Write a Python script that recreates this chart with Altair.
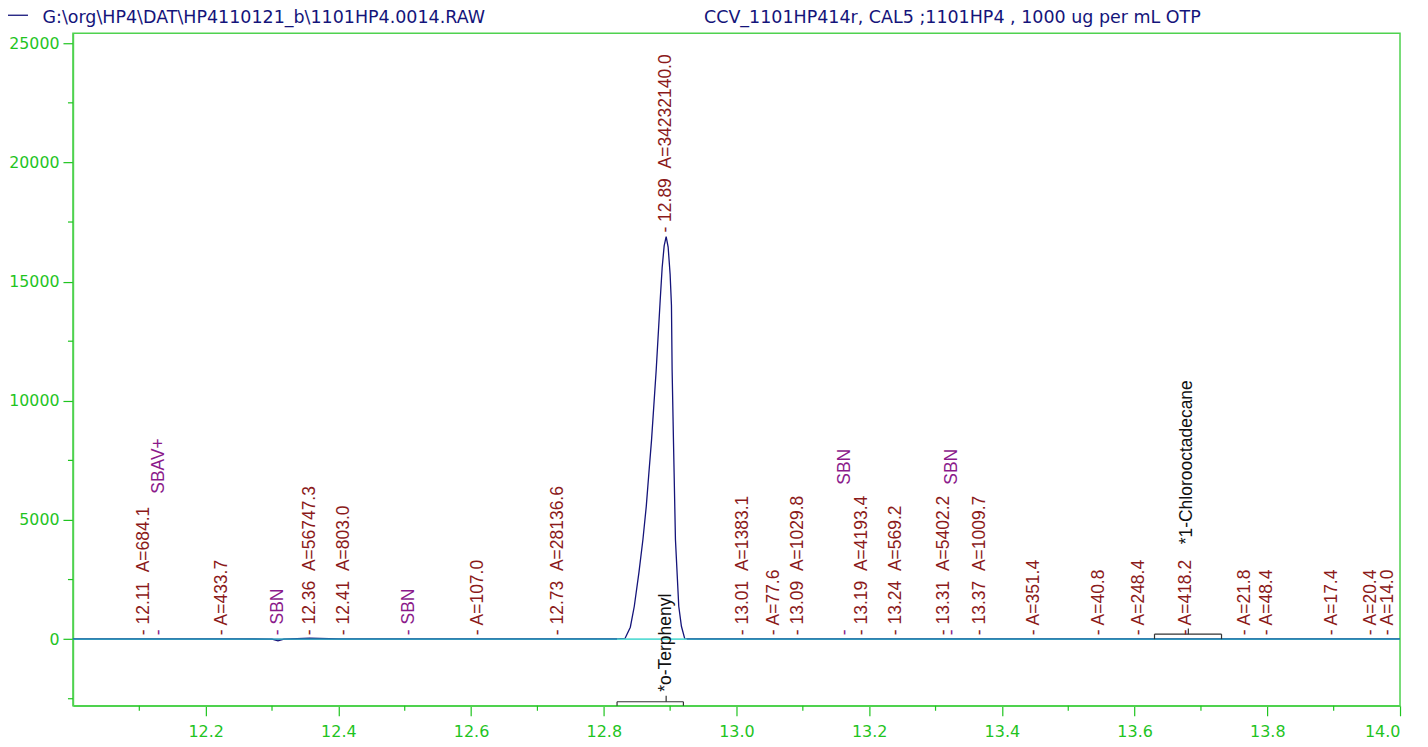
import altair as alt
import pandas as pd

# ---------------- data ----------------
header_left = "G:\\org\\HP4\\DAT\\HP4110121_b\\1101HP4.0014.RAW"
header_right = "CCV_1101HP414r, CAL5 ;1101HP4 , 1000 ug per mL OTP"

# chromatogram trace: retention time (min) and counts
trace_rt = [12.000, 12.050, 12.100, 12.150, 12.200, 12.250, 12.300, 12.309, 12.318,
            12.357, 12.400, 12.450, 12.500, 12.550, 12.600, 12.650, 12.700, 12.750,
            12.800, 12.820, 12.832, 12.840, 12.846, 12.853, 12.859, 12.864, 12.868,
            12.872, 12.879, 12.885, 12.888, 12.891, 12.894, 12.897, 12.900, 12.902,
            12.903, 12.905, 12.906, 12.908, 12.913, 12.917, 12.922, 12.940, 13.000,
            13.050, 13.100, 13.150, 13.200, 13.250, 13.300, 13.350, 13.400, 13.450,
            13.500, 13.550, 13.600, 13.650, 13.700, 13.750, 13.800, 13.850, 13.900,
            13.950, 14.000]
trace_val = [10, 12, 8, 10, 12, 8, 5, -70, 5,
             40, 12, 8, 10, 8, 10, 8, 10, 8,
             10, 10, 30, 500, 1380, 2800, 4180, 5560, 6980,
             8360, 11290, 14210, 15590, 16500, 16890, 16450, 15300, 14000,
             11290, 8360, 6980, 4180, 1380, 540, 20, 10, 10,
             8, 10, 8, 10, 8, 10, 8, 10, 8,
             10, 8, 10, 8, 10, 8, 10, 8, 10,
             8, 10]

# integration baselines
base_start = [12.000, 12.820, 12.925]
base_end = [12.820, 12.925, 14.000]
base_color = ["#2796b8", "#4ad8d0", "#2796b8"]

# peak annotations (dark red)
peak_rt = [12.107, 12.224, 12.357, 12.409, 12.610, 12.731, 12.894, 13.010, 13.056,
           13.092, 13.189, 13.240, 13.312, 13.367, 13.448, 13.546, 13.607, 13.677,
           13.767, 13.799, 13.897, 13.957, 13.982]
peak_text = ["- 12.11\u00a0\u00a0A=684.1", "- A=433.7", "- 12.36\u00a0\u00a0A=56747.3",
             "- 12.41\u00a0\u00a0A=803.0", "- A=107.0", "- 12.73\u00a0\u00a0A=28136.6",
             "- 12.89\u00a0\u00a0A=34232140.0", "- 13.01\u00a0\u00a0A=1383.1", "- A=77.6",
             "- 13.09\u00a0\u00a0A=1029.8", "- 13.19\u00a0\u00a0A=4193.4", "- 13.24\u00a0\u00a0A=569.2",
             "- 13.31\u00a0\u00a0A=5402.2", "- 13.37\u00a0\u00a0A=1009.7", "- A=351.4",
             "- A=40.8", "- A=248.4", "- A=418.2", "- A=21.8", "- A=48.4", "- A=17.4",
             "- A=20.4", "- A=14.0"]
peak_base = [0, 0, 0, 0, 0, 0, 16890, 0, 0,
             0, 0, 0, 0, 0, 0, 0, 0, 0,
             0, 0, 0, 0, 0]

# baseline event markers (purple)
event_rt = [12.129, 12.309, 12.507, 13.164, 13.325]
event_text = ["-", "- SBN", "- SBN", "-", "-"]
event_upper_rt = [12.129, 13.164, 13.325]
event_upper_text = ["SBAV+", "SBN", "SBN"]
event_upper_y = [6100, 6480, 6480]

# compound names (black) and their brackets
comp_rt = [12.894, 13.679]
comp_text = ["*o-Terphenyl", "*1-Chlorooctadecane"]
comp_y = [-2375, 3810]
br_start = [12.820, 13.630]
br_end = [12.920, 13.731]
br_level = [-2627, 210]
br_floor = [-2795, 0]
br_center = [12.894, 13.681]
br_tick_top = [-2375, 450]

# axis ticks
y_major = [0, 5000, 10000, 15000, 20000, 25000]
y_minor = [-2500, 2500, 7500, 12500, 17500, 22500]
x_major = [12.2, 12.4, 12.6, 12.8, 13.0, 13.2, 13.4, 13.6, 13.8, 14.0]
x_minor = [12.1, 12.3, 12.5, 12.7, 12.9, 13.1, 13.3, 13.5, 13.7, 13.9]

# ---------------- styling ----------------
GREEN = "#1fc41f"
FRAME = "#4fd24f"
NAVY = "#14147a"
RED = "#8b1a1a"
PURPLE = "#8b1a8b"
LFONT = "Liberation Sans"
AFONT = "DejaVu Sans"
W, H = 1328, 673

xs = alt.Scale(domain=[12.0, 14.0], nice=False, zero=False)
ys = alt.Scale(domain=[-2795, 25420], nice=False, zero=False)

x_axis = alt.Axis(
    values=x_major, format=".1f", title=None, grid=False, tickSize=10,
    domainColor=FRAME, tickColor=GREEN, labelColor=GREEN, labelFont=AFONT,
    labelFontSize=16, labelPadding=8, domainWidth=1.5, tickWidth=1.2,
)
y_axis = alt.Axis(
    values=y_major, format="d", title=None, grid=False, tickSize=10,
    domainColor=FRAME, tickColor=GREEN, labelColor=GREEN, labelFont=AFONT,
    labelFontSize=15.8, labelPadding=4, domainWidth=1.5, tickWidth=1.2,
)


def X(field):
    return alt.X(field, scale=xs, axis=x_axis, title=None)


def Y(field):
    return alt.Y(field, scale=ys, axis=y_axis, title=None)


trace_df = pd.DataFrame({"rt": trace_rt, "val": trace_val})
signal = alt.Chart(trace_df).mark_line(color=NAVY, strokeWidth=1.3).encode(
    x=X("rt:Q"), y=Y("val:Q"),
)

# minor ticks (shorter), positioned through the scales
ymin_ticks = alt.Chart(pd.DataFrame({"v": y_minor})).mark_rule(
    stroke=GREEN, strokeWidth=1.2
).encode(y=Y("v:Q"), x=alt.value(0), x2=alt.value(-5))
xmin_ticks = alt.Chart(pd.DataFrame({"v": x_minor})).mark_rule(
    stroke=GREEN, strokeWidth=1.2
).encode(x=X("v:Q"), y=alt.value(H), y2=alt.value(H + 5))

base_df = pd.DataFrame({"s": base_start, "e": base_end, "c": base_color,
                        "lvl": [0] * len(base_start)})
baseline = alt.Chart(base_df).mark_rule(strokeWidth=1.6, opacity=0.9).encode(
    x=X("s:Q"), x2="e:Q", y=Y("lvl:Q"),
    color=alt.Color("c:N", scale=None),
)

rows = []
for s, e, lv, fl, c, tt in zip(br_start, br_end, br_level, br_floor, br_center, br_tick_top):
    rows += [(s, e, lv, lv), (s, s, lv, fl), (e, e, lv, fl), (c, c, lv, tt)]
br_df = pd.DataFrame(rows, columns=["x1", "x2", "y1", "y2"])
brackets = alt.Chart(br_df).mark_rule(color="#333333", strokeWidth=1.2).encode(
    x=X("x1:Q"), x2="x2:Q", y=Y("y1:Q"), y2="y2:Q",
)


def vtext(df, color, dx=4):
    return alt.Chart(df).mark_text(
        angle=270, align="left", baseline="middle", dx=dx,
        font=LFONT, fontSize=17.5, color=color,
    ).encode(x=X("rt:Q"), y=Y("y:Q"), text="t:N")


peaks = vtext(pd.DataFrame({"rt": peak_rt, "y": peak_base, "t": peak_text}), RED)
events = vtext(pd.DataFrame({"rt": event_rt, "y": [0] * len(event_rt), "t": event_text}), PURPLE)
events_up = vtext(pd.DataFrame({"rt": event_upper_rt, "y": event_upper_y, "t": event_upper_text}), PURPLE, dx=0)
comps = vtext(pd.DataFrame({"rt": comp_rt, "y": comp_y, "t": comp_text}), "#111111")

hdr_df = pd.DataFrame({"t": [header_left]})
hdr1 = alt.Chart(hdr_df).mark_text(
    align="left", baseline="alphabetic", font=AFONT, fontSize=17.5, color=NAVY
).encode(x=alt.value(-30.5), y=alt.value(-10.5), text="t:N")
hdr2 = alt.Chart(pd.DataFrame({"t": [header_right]})).mark_text(
    align="left", baseline="alphabetic", font=AFONT, fontSize=17.5, color=NAVY
).encode(x=alt.value(631.5), y=alt.value(-10.5), text="t:N")
legend_line = alt.Chart(hdr_df).mark_rule(color=NAVY, strokeWidth=1.3).encode(
    x=alt.value(-65), x2=alt.value(-45), y=alt.value(-18)
)

chart = alt.layer(
    signal, ymin_ticks, xmin_ticks, baseline, brackets, peaks, events, events_up, comps,
    hdr1, hdr2, legend_line
).properties(
    width=W, height=H,
    autosize=alt.AutoSizeParams(type="none"),
    padding={"left": 65, "top": 25, "right": 20, "bottom": 36},
    background="white",
).configure_view(stroke=FRAME, strokeWidth=1.5)

chart.save("out.html", embed_options={"renderer": "svg", "actions": False})
